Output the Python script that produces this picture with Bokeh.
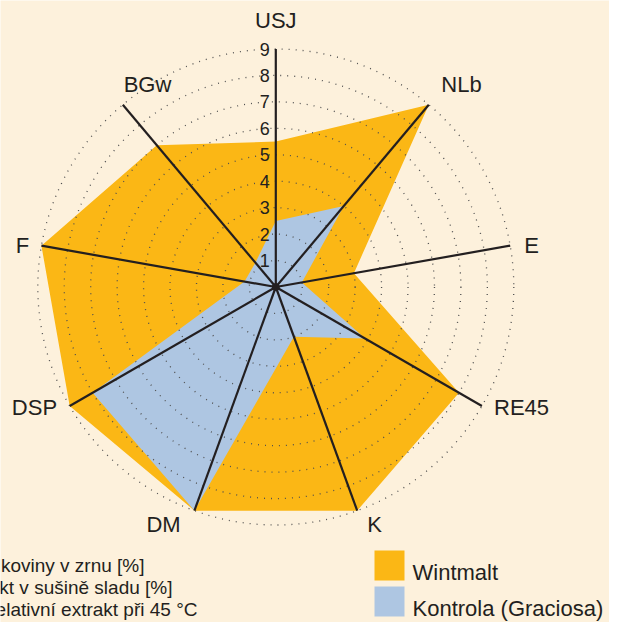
import numpy as np
from bokeh.plotting import figure
from bokeh.models import Range1d
from bokeh.core.properties import value
from bokeh.embed import file_html
from bokeh.resources import INLINE

# ---------------- data ----------------
categories = ["USJ", "NLb", "E", "RE45", "K", "DM", "DSP", "F", "BGw"]
wintmalt = [5.5, 9.0, 3.0, 8.0, 9.0, 9.0, 9.0, 9.0, 7.0]
kontrola = [2.5, 4.0, 1.0, 3.9, 2.0, 9.0, 8.0, 1.2, 1.2]
ticks = [1, 2, 3, 4, 5, 6, 7, 8, 9]
series_names = ["Wintmalt", "Kontrola (Graciosa)"]
notes = ["NLb – obsah bílkoviny v zrnu [%]",
         "E – extrakt v sušině sladu [%]",
         "RE45 – relativní extrakt při 45 °C"]

# ---------------- layout / style ----------------
BG = "#FDF1DC"
ORANGE = "#FBB715"
BLUE = "#AEC6E2"
INK = "#231F20"
FONT = "Liberation Sans"

W, H = 609, 622                  # figure size (px)
CX, CY = 275.3, 286.5            # radar centre (px from top-left)
R = 238.0                        # radius of the outer ring (px)
VMAX = 9
scale = R / VMAX

# label centre offsets from the axis end (px, y up)
LABEL_OFFSETS = [(0, 28.5), (32.7, 20.2), (21.3, 0.2), (39.6, -1.5), (17.3, -13.8),
                 (-30.9, -13.8), (-35.2, -1.5), (-18.9, 0.2), (24.7, 20.2)]
NOTE_ENDS = [144, 172, 197]      # right end of the clipped notes (px)
NOTE_MID = [565, 587, 609]       # vertical text centres (px from top)
LEG_X, LEG_SQ, LEG_GAP = 374, 30, 6
LEG_TOP = 550

p = figure(width=W, height=H, output_backend="svg", toolbar_location=None,
           x_range=Range1d(-CX, W - CX), y_range=Range1d(CY - H, CY),
           x_axis_location=None, y_axis_location=None,
           min_border=0, background_fill_color=BG, border_fill_color=BG,
           outline_line_color=None)
p.grid.visible = False

n = len(categories)
ang = np.deg2rad(90 - 360.0 / n * np.arange(n))
cosa, sina = np.cos(ang), np.sin(ang)


def poly(vals):
    v = np.asarray(vals) * scale
    return list(v * cosa), list(v * sina)


wx, wy = poly(wintmalt)
kx, ky = poly(kontrola)
p.patch(wx, wy, fill_color=ORANGE, line_color=None)
p.patch(kx, ky, fill_color=BLUE, line_color=None)

# dotted rings
p.circle(x=[0] * len(ticks), y=[0] * len(ticks), radius=[t * scale for t in ticks],
         fill_color=None, line_color="#505050", line_width=1.3, line_dash="1 6")

# spokes
ex, ey = list(R * cosa), list(R * sina)
p.segment(x0=[0] * n, y0=[0] * n, x1=ex, y1=ey, line_color=INK, line_width=2.2)
p.scatter([0], [0], size=7, color=INK)

# tick labels along the USJ axis
p.text(x=[-6] * len(ticks), y=[t * scale for t in ticks], text=[str(t) for t in ticks],
       text_align="right", text_baseline="middle", text_color=INK,
       text_font=value(FONT), text_font_size="18px")

# category labels
lx = [ex[i] + LABEL_OFFSETS[i][0] for i in range(n)]
ly = [ey[i] + LABEL_OFFSETS[i][1] for i in range(n)]
p.text(x=lx, y=ly, text=categories, text_align="center", text_baseline="middle",
       text_color=INK, text_font=value(FONT), text_font_size="22px")

# notes (clipped at the left edge as in the original)
p.text(x=[e - CX for e in NOTE_ENDS], y=[CY - m for m in NOTE_MID], text=notes,
       text_align="right", text_baseline="middle", text_color=INK,
       text_font=value(FONT), text_font_size="19px")

# legend
colors = [ORANGE, BLUE]
sq_top = [LEG_TOP + i * (LEG_SQ + LEG_GAP) for i in range(len(series_names))]
p.rect(x=[LEG_X + LEG_SQ / 2 - CX] * 2, y=[CY - (t + LEG_SQ / 2) for t in sq_top],
       width=LEG_SQ, height=LEG_SQ, fill_color=colors, line_color=None)
p.text(x=[LEG_X + LEG_SQ + 8 - CX] * 2, y=[CY - (t + LEG_SQ / 2 + 7) for t in sq_top],
       text=series_names, text_align="left", text_baseline="middle",
       text_color=INK, text_font=value(FONT), text_font_size="22px")

open("out.html", "w").write(file_html(p, INLINE))
